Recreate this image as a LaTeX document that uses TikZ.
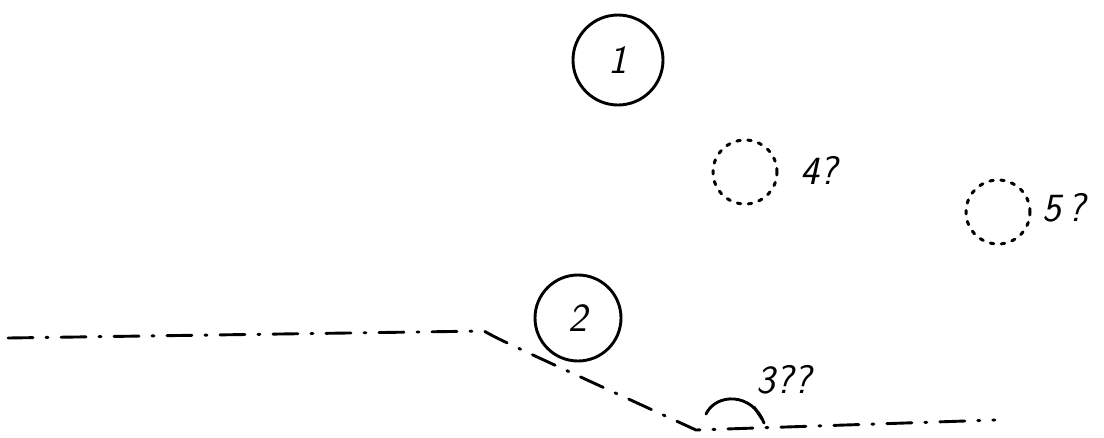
\documentclass[tikz,border=0pt]{standalone}
\usetikzlibrary{arrows.meta}
\begin{document}
\begin{tikzpicture}[x=1pt,y=-1pt,
  ink/.style={line width=2.9pt,black},
  solidc/.style={ink,draw,circle,inner sep=0pt},
  dottedc/.style={draw,circle,inner sep=0pt,line width=3pt,dash pattern=on 3.5pt off 7.5pt,line cap=round},
  lbl/.style={font=\fontsize{40}{42}\selectfont\sffamily\itshape,inner sep=0pt},
  dashdot/.style={ink,line cap=round,dash pattern=on 25pt off 13pt on 2pt off 13pt}]
\useasboundingbox[fill=white] (0,0) rectangle (1104,437);
\node[solidc,minimum size=90pt,lbl] (c1) at (618,60) {1};
\node[solidc,minimum size=86pt,lbl] (c2) at (578,318) {2};
\node[dottedc,minimum size=64pt] (c4) at (745,172) {};
\node[lbl,anchor=west] (t4) at (800,170) {4?};
\node[dottedc,minimum size=64pt] (c5) at (998,212) {};
\node[lbl,anchor=west] (t5) at (1042,208) {5\,?};
\coordinate (p0) at (8,338);
\coordinate (p1) at (484,331);
\coordinate (p2) at (696,430);
\coordinate (p3) at (995,420);
\draw[dashdot] (p0) -- (p1) .. controls (500,340) .. (p2) -- (p3);
\coordinate (a0) at (706,414);
\coordinate (a1) at (764,423);
\draw[ink,line cap=round] (a0) .. controls (716,393) and (752,392) .. (a1);
\draw[ink,line cap=round] (754,407) -- (762,419);
\node[lbl] (t3) at (784,380) {3??};
\end{tikzpicture}
\end{document}
